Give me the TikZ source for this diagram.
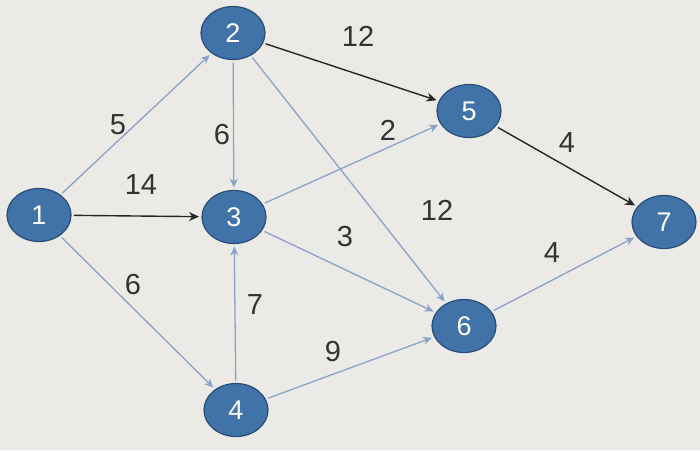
\documentclass[tikz,border=0pt]{standalone}
\usepackage{fontspec}
\setmainfont{Liberation Sans}
\usetikzlibrary{shapes.geometric,arrows.meta}
\definecolor{bg}{HTML}{ECEAE6}
\definecolor{nodefill}{HTML}{4172A8}
\definecolor{nodedraw}{HTML}{2A4C78}
\definecolor{lightarrow}{HTML}{8AA3C6}
\definecolor{darkarrow}{HTML}{262626}
\definecolor{labeltext}{HTML}{333333}
\tikzset{
  vertex/.style={ellipse, fill=nodefill, draw=nodedraw, line width=1.2pt,
    minimum width=64pt, minimum height=53pt, inner sep=0pt, outer sep=3pt,
    text=white, font=\fontsize{27}{27}\selectfont},
  bluearc/.style={draw=lightarrow, line width=1.3pt, -{Stealth[length=9pt,width=8pt]}},
  blackarc/.style={draw=darkarrow, line width=1.4pt, -{Stealth[length=10pt,width=9pt]}},
  weight/.style={text=labeltext, font=\fontsize{29}{29}\selectfont, inner sep=0pt}
}
\begin{document}
\begin{tikzpicture}[x=1pt,y=-1pt]
\fill[bg] (0,0) rectangle (700,450);
\useasboundingbox (0,0) rectangle (700,450);
\node[vertex] (n1) at (39,215) {1};
\node[vertex] (n2) at (233,33) {2};
\node[vertex] (n3) at (234,217) {3};
\node[vertex] (n4) at (236,410) {4};
\node[vertex] (n5) at (469,111) {5};
\node[vertex] (n6) at (464,326) {6};
\node[vertex] (n7) at (664,222) {7};

\draw[bluearc] (n1) -- (n2);
\draw[blackarc] (n1) -- (n3);
\draw[bluearc] (n1) -- (n4);
\draw[bluearc] (n2) -- (n3);
\draw[blackarc] (n2) -- (n5);
\draw[bluearc] (n2) -- (n6);
\draw[bluearc] (n3) -- (n5);
\draw[bluearc] (n3) -- (n6);
\draw[bluearc] (n4) -- (n3);
\draw[bluearc] (n4) -- (n6);
\draw[blackarc] (n5) -- (n7);
\draw[bluearc] (n6) -- (n7);

\node[weight] (w25) at (358,36) {12};
\node[weight] (w12) at (118,125) {5};
\node[weight] (w23) at (222,135) {6};
\node[weight] (w35) at (388,130) {2};
\node[weight] (w57) at (567,143) {4};
\node[weight] (w13) at (141,185) {14};
\node[weight] (w26) at (437,210) {12};
\node[weight] (w36) at (345,237) {3};
\node[weight] (w67) at (552,253) {4};
\node[weight] (w14) at (133,285) {6};
\node[weight] (w43) at (255,305) {7};
\node[weight] (w46) at (333,352) {9};
\end{tikzpicture}
\end{document}
